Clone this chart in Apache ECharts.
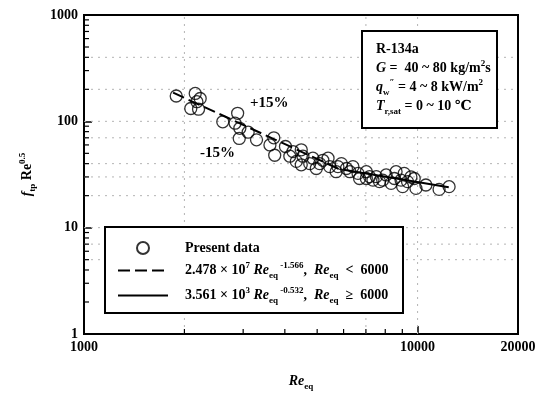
<!DOCTYPE html>
<html>
<head>
<meta charset="utf-8">
<script src="https://cdn.jsdelivr.net/npm/echarts@6/dist/echarts.min.js"></script>
<style>
  html, body { margin: 0; padding: 0; background: #fff; }
  #chart { width: 547px; height: 393px; }
</style>
</head>
<body>
<div id="chart"></div>
<script>
// Present data (Re_eq, f_tp Re^0.5)
const reEq = [1890, 2155, 2230, 2180, 2090, 2205, 2606, 2888, 2837, 2932, 2920, 3105, 3290, 3707, 3609, 3730,
  4017, 4140, 4231, 4330, 4480, 4532, 4480, 4750, 4855, 4970, 5088, 5200, 5390, 5450, 5700, 5770, 5910,
  6120, 6265, 6400, 6630, 6700, 7020, 7020, 7180, 7350, 7520, 7690, 7860, 8050, 8330, 8520, 8620, 8920,
  9020, 9120, 9330, 9550, 9770, 9890, 10590, 11600, 12430]
const fRe = [173, 183, 164, 153, 132, 130, 99, 119, 96, 86, 69, 79, 67, 70, 60, 48,
  58, 47, 52, 42, 54, 47, 39, 40, 45, 36, 40, 43, 45, 37.5, 33.6, 37.5, 40,
  36, 33.6, 37.5, 32.4, 29, 33.6, 29, 30.2, 28, 30.2, 27.1, 28, 31.3, 26.1, 29, 33.6, 28,
  24.3, 32.4, 27.1, 30, 29, 23.4, 25.2, 22.9, 24.3]

// correlation lines (end points)
const lowReX = [1850, 6000]
const lowReY = [186, 34]
const highReX = [6000, 12400]
const highReY = [35, 24]

// axes
const xRange = [1000, 20000]
const yRange = [1, 1000]
const xMinorTicks = [2000, 3000, 4000, 5000, 6000, 7000, 8000, 9000]
const yMinorTicks = [2, 3, 4, 5, 6, 7, 8, 9, 20, 30, 40, 50, 60, 70, 80, 90, 200, 300, 400, 500, 600, 700, 800, 900]
const xGridLines = [2000, 7000, 10000]
const yGridLines = [5, 7, 10, 20, 30, 40, 70, 100, 200, 400]

const serif = '"Liberation Serif", "DejaVu Serif", serif'

const rich = {
  b: { fontFamily: serif, fontWeight: 'bold', fontSize: 14, lineHeight: 19, color: '#000' },
  b0: { fontFamily: serif, fontWeight: 'bold', fontSize: 14, lineHeight: 19, color: '#000', padding: [0, 0, 0, 12] },
  i: { fontFamily: serif, fontWeight: 'bold', fontStyle: 'italic', fontSize: 14, lineHeight: 19, color: '#000' },
  sup: { fontFamily: serif, fontWeight: 'bold', fontSize: 9, lineHeight: 8, verticalAlign: 'top', color: '#000' },
  sub: { fontFamily: serif, fontWeight: 'bold', fontSize: 9, lineHeight: 6, verticalAlign: 'bottom', color: '#000' }
}

const legendText = {
  'Present data': '{b0|Present data}',
  'low': '{b0|2.478 × 10}{sup|7}{i| Re}{sub|eq}{sup| -1.566}{b|,  }{i|Re}{sub|eq}{b|  <  6000}',
  'high': '{b0|3.561 × 10}{sup|3}{i| Re}{sub|eq}{sup| -0.532}{b|,  }{i|Re}{sub|eq}{b|  ≥  6000}'
}

const infoText = [
  '{b|R-134a}',
  '{i|G}{b| =  40 ~ 80 kg/m}{sup|2}{b|s}',
  '{i|q}{sub|w}{sup|″}{b| = 4 ~ 8 kW/m}{sup|2}',
  '{i|T}{sub|r,sat}{b| = 0 ~ 10 ℃}'
].join('\n')

const tickSeries = (pts, vertical, len) => ({
  type: 'custom',
  silent: true,
  z: 3,
  data: pts,
  renderItem: (params, api) => {
    const p = api.coord([api.value(0), api.value(1)])
    return {
      type: 'line',
      shape: vertical
        ? { x1: p[0], y1: p[1], x2: p[0], y2: p[1] - len }
        : { x1: p[0], y1: p[1], x2: p[0] + len, y2: p[1] },
      style: { stroke: '#000', lineWidth: 1.2 }
    }
  }
})

const gridSeries = (pts, vertical) => ({
  type: 'custom',
  silent: true,
  z: 1,
  data: pts,
  renderItem: (params, api) => {
    const a = vertical ? api.coord([api.value(0), yRange[0]]) : api.coord([xRange[0], api.value(1)])
    const b = vertical ? api.coord([api.value(0), yRange[1]]) : api.coord([xRange[1], api.value(1)])
    return {
      type: 'line',
      shape: { x1: a[0], y1: a[1], x2: b[0], y2: b[1] },
      style: { stroke: '#b4b4b4', lineWidth: 1, lineDash: [2, 5] }
    }
  }
})

const chart = echarts.init(document.getElementById('chart'))

chart.setOption({
  animation: false,
  backgroundColor: '#fff',
  grid: { left: 84, right: 29, top: 15, bottom: 59, show: true, borderColor: '#000', borderWidth: 2,
    outerBoundsMode: 'none' },
  xAxis: {
    type: 'log', logBase: 10, min: xRange[0], max: xRange[1],
    name: '{i|Re}{sub|eq}', nameLocation: 'middle', nameGap: 38,
    nameTextStyle: { rich },
    axisLine: { lineStyle: { color: '#000', width: 2 } },
    axisTick: { inside: true, length: 8, lineStyle: { color: '#000', width: 1.5 } },
    axisLabel: { color: '#000', fontFamily: serif, fontWeight: 'bold', fontSize: 14, margin: 6,
      formatter: v => String(Math.round(v)) },
    splitLine: { show: false },
    minorTick: { show: false }
  },
  yAxis: {
    type: 'log', logBase: 10, min: yRange[0], max: yRange[1],
    name: '{fi|f}{sub|tp}{b| Re}{sup|0.5}', nameLocation: 'middle', nameGap: 47,
    nameTextStyle: { rich: Object.assign({ fi: rich.i }, rich) },
    axisLine: { lineStyle: { color: '#000', width: 2 } },
    axisTick: { inside: true, length: 8, lineStyle: { color: '#000', width: 1.5 } },
    axisLabel: { color: '#000', fontFamily: serif, fontWeight: 'bold', fontSize: 14, margin: 6,
      formatter: v => String(Math.round(v)) },
    splitLine: { show: false }
  },
  legend: {
    orient: 'vertical', left: 112, top: 236, z: 10,
    itemWidth: 50, itemHeight: 12, itemGap: 6,
    selectedMode: false,
    data: ['Present data', 'low', 'high'],
    formatter: name => legendText[name],
    textStyle: { rich }
  },
  graphic: [
    { type: 'rect', z: 5, shape: { x: 105, y: 227, width: 298, height: 86 },
      style: { fill: '#fff', stroke: '#000', lineWidth: 2 } },
    { type: 'rect', z: 5, shape: { x: 362, y: 31, width: 135, height: 97 },
      style: { fill: '#fff', stroke: '#000', lineWidth: 2 } },
    { type: 'text', z: 6, x: 376, y: 40,
      style: { text: infoText, rich, fill: '#000' } },
    { type: 'text', z: 6, x: 250, y: 96,
      style: { text: '+15%', fill: '#000', font: 'bold 15px "Liberation Serif"' } },
    { type: 'text', z: 6, x: 200, y: 146,
      style: { text: '-15%', fill: '#000', font: 'bold 15px "Liberation Serif"' } }
  ],
  series: [
    gridSeries(xGridLines.map(v => [v, yRange[0]]), true),
    gridSeries(yGridLines.map(v => [xRange[0], v]), false),
    tickSeries(xMinorTicks.map(v => [v, yRange[0]]), true, 5),
    tickSeries(yMinorTicks.map(v => [xRange[0], v]), false, 5),
    {
      name: 'Present data',
      type: 'scatter',
      symbol: 'circle',
      symbolSize: 12,
      z: 4,
      itemStyle: { color: 'rgba(255,255,255,0)', borderColor: '#000', borderWidth: 1.3 },
      data: reEq.map((x, i) => [x, fRe[i]])
    },
    {
      name: 'low',
      type: 'line',
      symbol: 'none',
      z: 3,
      itemStyle: { color: 'rgba(0,0,0,0)', borderWidth: 0 },
      lineStyle: { color: '#000', width: 2, type: [12, 5] },
      data: lowReX.map((x, i) => [x, lowReY[i]])
    },
    {
      name: 'high',
      type: 'line',
      symbol: 'none',
      z: 3,
      itemStyle: { color: 'rgba(0,0,0,0)', borderWidth: 0 },
      lineStyle: { color: '#000', width: 2 },
      data: highReX.map((x, i) => [x, highReY[i]])
    }
  ]
})
</script>
</body>
</html>
